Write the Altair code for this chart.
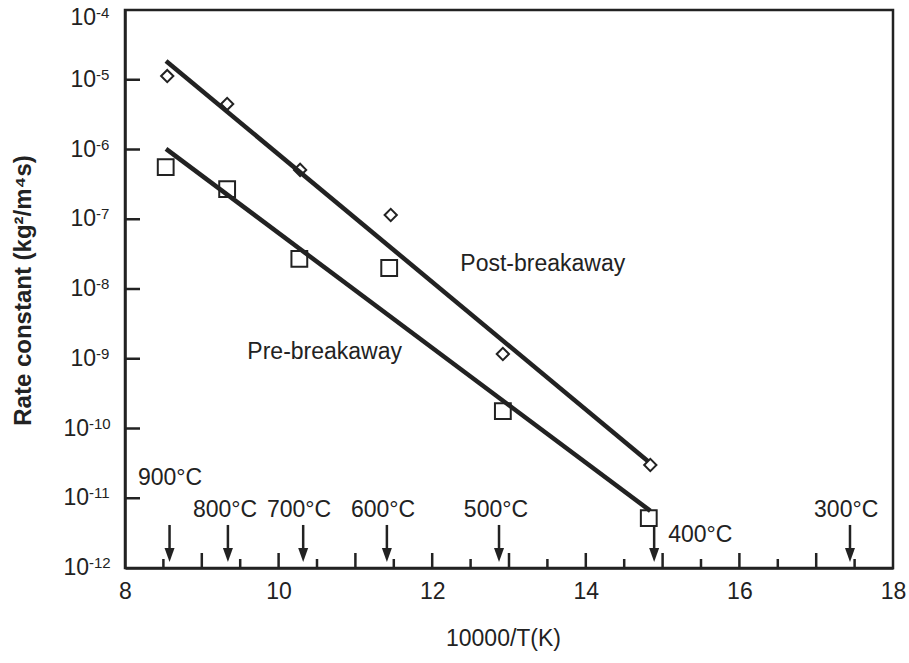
import altair as alt
import pandas as pd

INK = "#222222"
FONT = "Liberation Sans"

# ---- data ----
post_x = [8.55, 9.33, 10.28, 11.46, 12.92, 14.84]
post_k = [1.13e-5, 4.5e-6, 5.1e-7, 1.15e-7, 1.17e-9, 3.0e-11]
pre_x = [8.53, 9.33, 10.27, 11.44, 12.92, 14.82]
pre_k = [5.6e-7, 2.7e-7, 2.7e-8, 2.0e-8, 1.78e-10, 5.2e-12]

post_fit_x = [8.534, 14.81]
post_fit_k = [1.86e-5, 3.4e-11]
pre_fit_x = [8.534, 14.84]
pre_fit_k = [1.02e-6, 6.6e-12]

series_names = ["Post-breakaway", "Pre-breakaway"]
series_label_x = [13.44, 10.60]
series_label_k = [2.3e-8, 1.26e-9]

temp_labels = ["900°C", "800°C", "700°C", "600°C", "500°C", "400°C", "300°C"]
arrow_x = [8.58, 9.34, 10.32, 11.41, 12.87, 14.89, 17.44]
arrow_top = [4.14e-12, 4.14e-12, 4.14e-12, 4.14e-12, 4.14e-12, 3.9e-12, 4.14e-12]
arrow_tip = [1.22e-12] * 7
temp_label_x = [8.586, 9.302, 10.266, 11.36, 12.83, 15.49, 17.39]
temp_label_k = [1.95e-11, 6.79e-12, 6.79e-12, 6.79e-12, 6.79e-12, 2.97e-12, 6.79e-12]

x_labels = [8, 10, 12, 14, 16, 18]
x_major_ticks = [9, 10, 11, 12, 13, 14, 15, 16, 17]
x_minor_ticks = [8.5, 9.5, 10.5, 11.5, 12.5, 13.5, 14.5, 15.5, 16.5, 17.5]
y_labels = [1e-12, 1e-11, 1e-10, 1e-9, 1e-8, 1e-7, 1e-6, 1e-5, 1e-4]
y_label_base = ["10"] * 9
y_label_exp = ["-12", "-11", "-10", "-9", "-8", "-7", "-6", "-5", "-4"]
y_ticks = [1e-11, 1e-10, 1e-9, 1e-8, 1e-7, 1e-6, 1e-5]

# ---- tables ----
pts = pd.DataFrame({
    "x": post_x + pre_x,
    "y": post_k + pre_k,
    "series": [series_names[0]] * len(post_x) + [series_names[1]] * len(pre_x),
})
fits = pd.DataFrame({
    "x": post_fit_x + pre_fit_x,
    "y": post_fit_k + pre_fit_k,
    "series": [series_names[0]] * 2 + [series_names[1]] * 2,
})
slabels = pd.DataFrame({"x": series_label_x, "y": series_label_k, "label": series_names})
arrows = pd.DataFrame({"x": arrow_x, "y": arrow_top, "y2": arrow_tip})
tlabels = pd.DataFrame({"x": temp_label_x, "y": temp_label_k, "label": temp_labels})
majt = pd.DataFrame({"x": x_major_ticks})
mint = pd.DataFrame({"x": x_minor_ticks})
yt = pd.DataFrame({"y": y_ticks})
ylab = pd.DataFrame({"y": y_labels, "base": y_label_base, "exp": y_label_exp})
ylab["ndig"] = ylab["exp"].str.len() - 1
ylab_top = ylab[ylab["y"] == max(y_labels)]
ylab_one = ylab[(ylab["ndig"] == 1) & (ylab["y"] < max(y_labels))]
ylab_two = ylab[ylab["ndig"] == 2]

x_axis = alt.Axis(
    values=x_labels, title="10000/T(K)", ticks=False, grid=False,
    domainColor=INK, domainWidth=2.5, labelFont=FONT, labelFontSize=23,
    labelColor=INK, labelPadding=12, labelFlush=False, labelOverlap=False,
    titleFont=FONT, titleFontSize=23, titleFontWeight="normal", titleColor=INK,
    titleX=378, titleY=70, titleBaseline="middle",
)
y_axis = alt.Axis(
    values=y_labels, title="Rate constant (kg²/m⁴s)", ticks=False, grid=False,
    labels=False, domainColor=INK, domainWidth=2.5,
    titleFont=FONT, titleFontSize=24, titleFontWeight="bold", titleColor=INK,
    titleX=-102, titleY=280, titleBaseline="middle",
)


def X():
    return alt.X("x:Q", scale=alt.Scale(domain=[8, 18], nice=False, zero=False), axis=x_axis)


def Y(field="y"):
    return alt.Y(f"{field}:Q", scale=alt.Scale(type="log", domain=[1e-12, 1e-4], nice=False), axis=y_axis)


def ylab_layer(df, field, xpx, dy, size, align):
    return alt.Chart(df).mark_text(
        font=FONT, fontSize=size, color=INK, align=align, baseline="middle", dy=dy
    ).encode(y=Y(), x=alt.value(xpx), text=f"{field}:N")


lines = alt.Chart(fits).mark_line(color=INK, strokeWidth=4.5).encode(
    x=X(), y=Y(), detail="series:N"
)
points = alt.Chart(pts).mark_point(filled=False, color=INK, strokeWidth=2, opacity=1).encode(
    x=X(), y=Y(),
    shape=alt.Shape("series:N", scale=alt.Scale(domain=series_names, range=["diamond", "square"]), legend=None),
    size=alt.Size("series:N", scale=alt.Scale(domain=series_names, range=[150, 250]), legend=None),
)
stext = alt.Chart(slabels).mark_text(font=FONT, fontSize=23, color=INK, baseline="middle").encode(
    x=X(), y=Y(), text="label:N"
)
arrow_lines = alt.Chart(arrows).mark_rule(color=INK, strokeWidth=2.5, y2Offset=-6).encode(
    x=X(), y=Y(), y2="y2:Q"
)
arrow_heads = alt.Chart(arrows).mark_point(
    shape="M-1,-2.8L1,-2.8L0,0Z", filled=True, color=INK, size=100, opacity=1
).encode(x=X(), y=Y("y2"))
ttext = alt.Chart(tlabels).mark_text(font=FONT, fontSize=23, color=INK, baseline="middle").encode(
    x=X(), y=Y(), text="label:N"
)
major_ticks = alt.Chart(majt).mark_rule(color=INK, strokeWidth=2.5).encode(
    x=X(), y=alt.value(558), y2=alt.value(543)
)
minor_ticks = alt.Chart(mint).mark_rule(color=INK, strokeWidth=2.5).encode(
    x=X(), y=alt.value(558), y2=alt.value(549)
)
y_tick_marks = alt.Chart(yt).mark_rule(color=INK, strokeWidth=2.5).encode(
    y=Y(), x=alt.value(0), x2=alt.value(15)
)

ylabel_layers = [
    ylab_layer(ylab_one, "base", -29, 0, 23, "right"),
    ylab_layer(ylab_one, "exp", -29, -5, 15, "left"),
    ylab_layer(ylab_two, "base", -36, 0, 23, "right"),
    ylab_layer(ylab_two, "exp", -36, -5, 15, "left"),
    ylab_layer(ylab_top, "base", -29, 8, 23, "right"),
    ylab_layer(ylab_top, "exp", -29, 3, 15, "left"),
]

chart = alt.layer(
    major_ticks, minor_ticks, y_tick_marks, lines, points, stext,
    arrow_lines, arrow_heads, ttext, *ylabel_layers,
).properties(
    width=768, height=558,
    autosize=alt.AutoSizeParams(type="none"),
    padding={"left": 125, "top": 10, "right": 16, "bottom": 95},
    background="white",
).configure_view(stroke=INK, strokeWidth=2.5)

chart.save("out.html", embed_options={"renderer": "svg", "actions": False})
